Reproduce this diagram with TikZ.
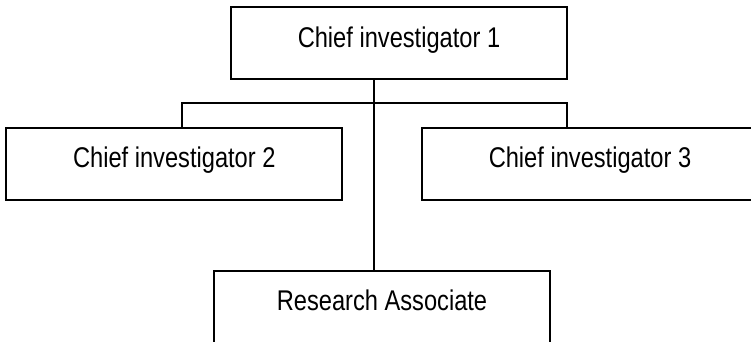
\documentclass[tikz,border=0pt]{standalone}
\usepackage{fontspec}
\setmainfont{Liberation Sans}[FakeStretch=0.83]
\begin{document}
\begin{tikzpicture}[x=1pt,y=-1pt,
  box/.style={draw=black, line width=1.8pt, rectangle, inner sep=0pt,
    minimum width=336pt, text height=40pt, text depth=32pt,
    font=\fontsize{28.5}{30}\selectfont, anchor=north},
  link/.style={draw=black, line width=1.8pt}]
\useasboundingbox (0,0) rectangle (751,342);
\clip (0,0) rectangle (751,342);
\fill[white] (0,0) rectangle (751,342);
\node[box] (ci1) at (399,6.5) {Chief investigator 1};
\node[box] (ci2) at (174.3,126.7) {Chief investigator 2};
\node[box] (ci3) at (590,126.7) {Chief investigator 3};
\node[box] (ra) at (382,270) {Research Associate};
\coordinate (trunk) at (374,0);
\coordinate (bus) at (0,102.7);
\coordinate (dl) at (182.3,0);
\coordinate (dr) at (566.7,0);
\draw[link] (ci1.south -| trunk) -- (ra.north -| trunk);
\draw[link] (ci2.north -| dl) -- (bus -| dl) -- (bus -| dr) -- (ci3.north -| dr);
\end{tikzpicture}
\end{document}
